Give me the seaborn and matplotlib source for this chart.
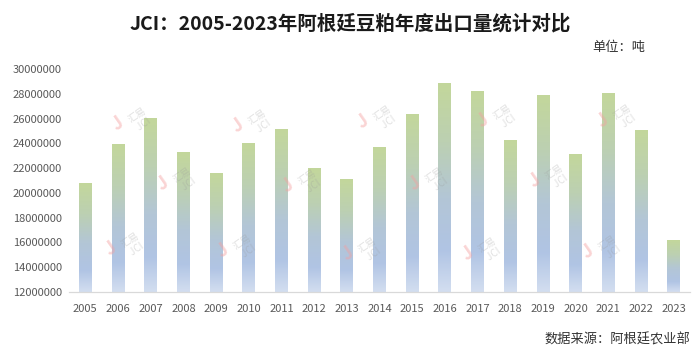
import numpy as np
import pandas as pd
import matplotlib
matplotlib.use('Agg')
import matplotlib.pyplot as plt
import seaborn as sns
from matplotlib.colors import LinearSegmentedColormap
from matplotlib.ticker import FuncFormatter

# Data (tons)
years = ['2005', '2006', '2007', '2008', '2009', '2010', '2011', '2012', '2013', '2014',
         '2015', '2016', '2017', '2018', '2019', '2020', '2021', '2022', '2023']
export_tons = [20760000, 23900000, 26000000, 23300000, 21600000, 24000000, 25150000, 21950000,
               21100000, 23700000, 26350000, 28800000, 28200000, 24200000, 27850000, 23100000,
               28000000, 25050000, 16150000]
y_ticks = [12000000, 14000000, 16000000, 18000000, 20000000, 22000000, 24000000,
           26000000, 28000000, 30000000]

title = 'JCI：2005-2023年阿根廷豆粕年度出口量统计对比'
unit_text = '单位：吨'
source_text = '数据来源：阿根廷农业部'

sns.set_theme(style='white')
plt.rcParams['font.family'] = ['Noto Sans CJK SC', 'DejaVu Sans']

fig = plt.figure(figsize=(7, 3.6), dpi=100)
ax = fig.add_axes([69 / 700, 1 - 292 / 360, 621 / 700, 223 / 360])

df = pd.DataFrame({'year': years, 'tons': export_tons})
sns.barplot(data=df, x='year', y='tons', ax=ax, width=0.39, color='#c3d79b')

# per-bar gradient: light blue at the bottom, green at the top
grad_cmap = LinearSegmentedColormap.from_list(
    'bar_grad',
    [(0.0, '#d3def0'), (0.2, '#b0c4e4'), (0.45, '#b3c6d6'), (0.72, '#bcd0b2'), (1.0, '#c3d79b')])
grad = np.linspace(0, 1, 256).reshape(-1, 1)
ymin = y_ticks[0]
for p in ax.patches:
    x0 = p.get_x()
    w = p.get_width()
    h = p.get_height()
    ax.imshow(grad, extent=[x0, x0 + w, ymin, h], aspect='auto', cmap=grad_cmap,
              origin='lower', zorder=2)
    p.set_facecolor('none')
    p.set_edgecolor('none')

ax.set_xlim(-0.5, len(years) - 0.5)
ax.set_ylim(y_ticks[0], y_ticks[-1])
ax.set_yticks(y_ticks)
ax.yaxis.set_major_formatter(FuncFormatter(lambda v, pos: f'{int(v)}'))
ax.set_xlabel('')
ax.set_ylabel('')
for s in ['left', 'top', 'right']:
    ax.spines[s].set_visible(False)
ax.spines['bottom'].set_color('#d9d9d9')
ax.spines['bottom'].set_linewidth(0.9)
ax.tick_params(axis='both', length=0, colors='#595959', labelsize=8)
ax.tick_params(axis='y', pad=5)
ax.tick_params(axis='x', pad=9)

# faint watermarks
wm_spots = [(140, 120), (260, 122), (385, 118), (505, 117), (625, 117),
            (185, 180), (310, 182), (437, 180), (557, 177),
            (133, 245), (245, 247), (370, 250), (490, 250), (610, 248)]
for (px, py) in wm_spots:
    fig.text((px - 22) / 700, 1 - (py + 4) / 360, 'J', color='#f4a0a0', alpha=0.45,
             fontsize=13, fontweight='bold', rotation=35, ha='center', va='center')
    fig.text(px / 700, 1 - py / 360, '汇易\n JCI', color='#9a9a9a', alpha=0.3,
             fontsize=7, rotation=35, ha='center', va='center', linespacing=1.1)

fig.text(0.5, 1 - 24 / 360, title, ha='center', va='center', fontsize=14,
         fontweight='bold', color='#1a1a1a')
fig.text(645 / 700, 1 - 47 / 360, unit_text, ha='right', va='center', fontsize=9.5,
         color='#333333')
fig.text(690 / 700, 1 - 340 / 360, source_text, ha='right', va='center', fontsize=9.5,
         color='#333333')

fig.savefig('out.png', dpi=100, facecolor='white')
